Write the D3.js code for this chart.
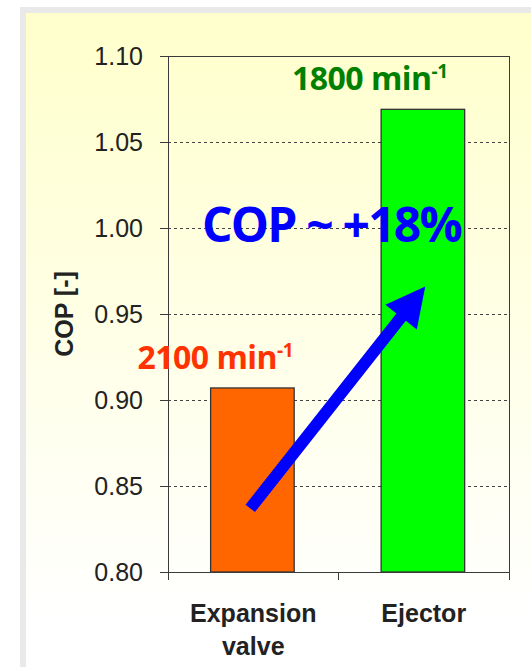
<!DOCTYPE html>
<html>
<head>
<meta charset="utf-8">
<script src="https://cdn.jsdelivr.net/npm/d3@7/dist/d3.min.js"></script>
<style>
  html, body { margin: 0; padding: 0; background: #ffffff; }
  svg { display: block; }
</style>
</head>
<body>
<script>
// ---- data ----
const categories = ["Expansion valve", "Ejector"];
const categoryLines = [["Expansion", "valve"], ["Ejector"]];
const copValues = [0.907, 1.069];
const speedValues = ["2100", "1800"];          // compressor speed, min^-1
const yTicks = [0.80, 0.85, 0.90, 0.95, 1.00, 1.05, 1.10];
const gridTicks = [0.85, 0.90, 0.95, 1.00, 1.05];
const arrowFrom = ["Expansion valve", 0.837];
const arrowTo = ["Ejector", 0.966];
const gainText = "COP ~ +18%";
const yTitle = "COP [-]";

// ---- layout & style ----
const W = 531, H = 667;
const plot = { left: 168, right: 509, top: 56, bottom: 572 };
const barColors = ["#ff6600", "#00ff00"];
const speedColors = ["#ff3300", "#008000"];
const speedDx = [-38, -54];
const axisColor = "#3a3a3a";
const labelFont = "'Liberation Sans', Arial, sans-serif";
const callFont = "'Open Sans', 'Noto Sans', sans-serif";

const svg = d3.select("body").append("svg")
  .attr("width", W).attr("height", H);

// background panel with soft yellow gradient and grey frame edge
const defs = svg.append("defs");
const grad = defs.append("linearGradient")
  .attr("id", "panelGrad")
  .attr("gradientUnits", "userSpaceOnUse")
  .attr("x1", 0).attr("y1", 13).attr("x2", 0).attr("y2", 620);
grad.append("stop").attr("offset", 0).attr("stop-color", "#ffffcc");
grad.append("stop").attr("offset", 1).attr("stop-color", "#ffffff");

svg.append("rect").attr("x", 20).attr("y", 7)
  .attr("width", W - 20).attr("height", H - 7).attr("fill", "#e9e9e9");
svg.append("rect").attr("x", 26).attr("y", 13)
  .attr("width", W - 26).attr("height", H - 13).attr("fill", "url(#panelGrad)");

// ---- scales ----
const x = d3.scaleBand().domain(categories)
  .range([plot.left, plot.right]).paddingInner(0).paddingOuter(0);
const y = d3.scaleLinear().domain([0.80, 1.10]).range([plot.bottom, plot.top]);
const bw = x.bandwidth();
const xc = c => x(c) + bw / 2;

// ---- gridlines ----
svg.append("g").selectAll("line").data(gridTicks).join("line")
  .attr("x1", plot.left).attr("x2", plot.right)
  .attr("y1", d => y(d)).attr("y2", d => y(d))
  .attr("stroke", "#444").attr("stroke-width", 1)
  .attr("stroke-dasharray", "3,3")
  .attr("shape-rendering", "crispEdges");

// ---- bars ----
svg.append("g").selectAll("rect").data(categories).join("rect")
  .attr("x", c => x(c) + bw * 0.25)
  .attr("width", bw * 0.49)
  .attr("y", (c, i) => y(copValues[i]))
  .attr("height", (c, i) => y(0.80) - y(copValues[i]))
  .attr("fill", (c, i) => barColors[i])
  .attr("stroke", "#333").attr("stroke-width", 1.3);

// ---- y axis ----
const yAxis = svg.append("g")
  .attr("transform", `translate(${plot.left},0)`)
  .call(d3.axisLeft(y).tickValues(yTicks).tickSize(8).tickSizeOuter(0)
    .tickPadding(17).tickFormat(d3.format(".2f")));
yAxis.select(".domain").attr("stroke", axisColor).attr("shape-rendering", "crispEdges");
yAxis.selectAll(".tick line").attr("stroke", axisColor).attr("shape-rendering", "crispEdges");
yAxis.selectAll(".tick text")
  .attr("font-family", labelFont).attr("font-size", 25).attr("fill", "#222");

// plot frame: top, right, bottom
const frame = svg.append("g").attr("stroke", axisColor).attr("shape-rendering", "crispEdges");
frame.append("line").attr("x1", plot.left).attr("x2", plot.right)
  .attr("y1", y(1.10)).attr("y2", y(1.10));
frame.append("line").attr("x1", plot.right).attr("x2", plot.right)
  .attr("y1", y(1.10)).attr("y2", y(0.80));
frame.append("line").attr("x1", plot.left).attr("x2", plot.right)
  .attr("y1", y(0.80)).attr("y2", y(0.80));

// x axis ticks on category boundaries
const xBounds = categories.map(c => x(c)).concat([plot.right]);
frame.selectAll(".xtick").data(xBounds).join("line")
  .attr("class", "xtick")
  .attr("x1", d => d).attr("x2", d => d)
  .attr("y1", y(0.80)).attr("y2", y(0.80) + 8);

// x category labels
const xl = svg.append("g");
categories.forEach((c, i) => {
  const t = xl.append("text")
    .attr("text-anchor", "middle")
    .attr("font-family", labelFont).attr("font-weight", "bold")
    .attr("font-size", 25).attr("fill", "#222");
  categoryLines[i].forEach((line, j) => {
    t.append("tspan").attr("x", xc(c)).attr("y", y(0.80) + 50 + j * 33).text(line);
  });
});

// y axis title
svg.append("text")
  .attr("transform", "translate(73,314) rotate(-90)")
  .attr("text-anchor", "middle")
  .attr("font-family", labelFont).attr("font-weight", "bold")
  .attr("font-size", 25).attr("fill", "#222")
  .text(yTitle);

// ---- speed labels above bars ----
categories.forEach((c, i) => {
  const t = svg.append("text")
    .attr("x", xc(c) + speedDx[i])
    .attr("y", y(copValues[i]) - 19)
    .attr("text-anchor", "middle")
    .attr("font-family", callFont).attr("font-weight", "bold")
    .attr("font-size", 32).attr("letter-spacing", -0.5)
    .attr("fill", speedColors[i]);
  t.append("tspan").text(speedValues[i] + " min");
  t.append("tspan").attr("font-size", 19).attr("dy", -12).text("-1");
});

// ---- gain annotation ----
svg.append("text")
  .attr("x", (plot.left + plot.right) / 2 - 7)
  .attr("y", y(0.992))
  .attr("text-anchor", "middle")
  .attr("font-family", callFont).attr("font-weight", "bold")
  .attr("font-size", 48).attr("letter-spacing", -1.8)
  .attr("fill", "#0000ff")
  .text(gainText);

// ---- arrow from expansion valve to ejector ----
const p0 = [xc(arrowFrom[0]) - 3, y(arrowFrom[1])];
const p1 = [xc(arrowTo[0]) + 1.5, y(arrowTo[1])];
const dx = p1[0] - p0[0], dy = p1[1] - p0[1];
const len = Math.hypot(dx, dy);
const u = [dx / len, dy / len], n = [-u[1], u[0]];
const shaftHalf = 6, headHalf = 20, headLen = 39;
const base = [p1[0] - u[0] * headLen, p1[1] - u[1] * headLen];
const pt = (p, k) => [p[0] + n[0] * k, p[1] + n[1] * k];
const arrowPts = [
  pt(p0, shaftHalf), pt(base, shaftHalf), pt(base, headHalf), p1,
  pt(base, -headHalf), pt(base, -shaftHalf), pt(p0, -shaftHalf)
];
svg.append("path")
  .attr("d", d3.line()(arrowPts) + "Z")
  .attr("fill", "#0000ff");
</script>
</body>
</html>
